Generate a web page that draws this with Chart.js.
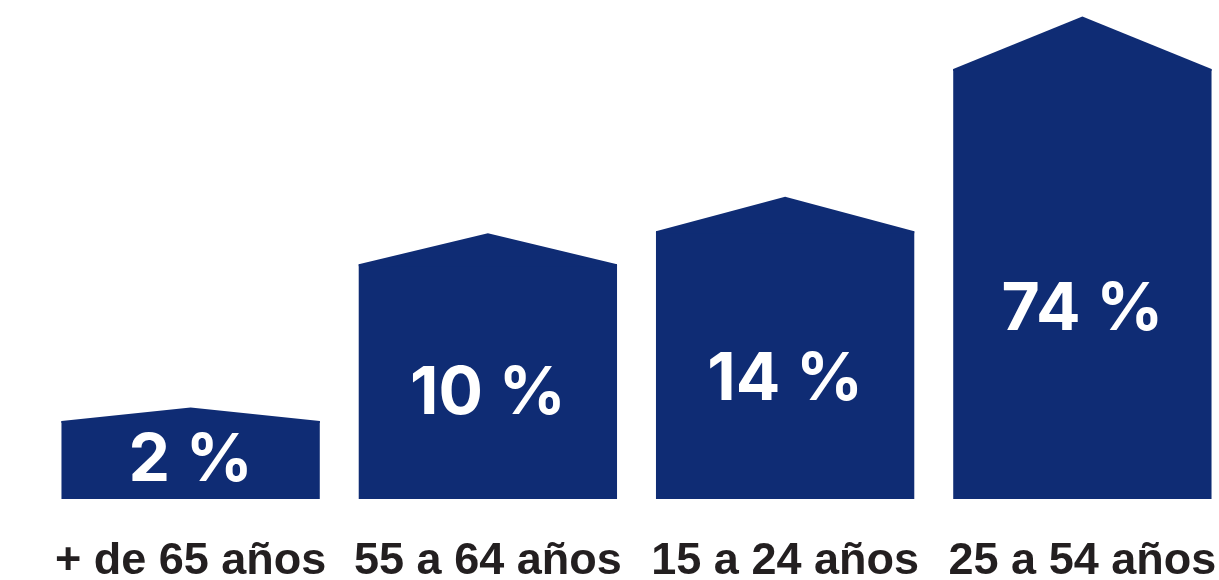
<!DOCTYPE html>
<html>
<head>
<meta charset="utf-8">
<script src="https://cdn.jsdelivr.net/npm/chart.js@4"></script>
<style>
html,body{margin:0;padding:0;background:#fff;overflow:hidden}
#wrap{width:1231px;height:580px;position:relative}
</style>
</head>
<body>
<div id="wrap"><canvas id="c"></canvas></div>
<script>
// grupos de edad y su participación (%)
const ageGroups = ['+ de 65 años', '55 a 64 años', '15 a 24 años', '25 a 54 años'];
const shares = [2, 10, 14, 74];

const NAVY = '#0f2c74';

// techo triangular + etiqueta blanca dentro de cada barra
const houseRoof = {
  id: 'houseRoof',
  afterDatasetsDraw(chart) {
    const ctx = chart.ctx;
    const meta = chart.getDatasetMeta(0);
    meta.data.forEach((bar, i) => {
      const half = bar.width / 2;
      const wall = bar.base - bar.y;
      const roof = wall * 0.11 + 5;
      ctx.save();
      ctx.fillStyle = NAVY;
      ctx.beginPath();
      ctx.moveTo(bar.x - half, bar.y + 2);
      ctx.lineTo(bar.x - half, bar.y);
      ctx.lineTo(bar.x, bar.y - roof);
      ctx.lineTo(bar.x + half, bar.y);
      ctx.lineTo(bar.x + half, bar.y + 2);
      ctx.closePath();
      ctx.fill();
      ctx.fillStyle = '#fff';
      ctx.font = 'bold 66px Inter, "Liberation Sans", Arial';
      ctx.textAlign = 'center';
      ctx.textBaseline = 'middle';
      ctx.fillText(shares[i] + ' %', bar.x, bar.base - wall * 0.43 - 4);
      ctx.restore();
    });
  }
};

new Chart(document.getElementById('c').getContext('2d'), {
  type: 'bar',
  data: {
    labels: ageGroups,
    datasets: [{
      data: shares,
      backgroundColor: NAVY,
      borderWidth: 0,
      categoryPercentage: 1,
      barPercentage: 0.869
    }]
  },
  options: {
    responsive: true,
    maintainAspectRatio: false,
    animation: false,
    layout: { autoPadding: false, padding: { left: 42, right: 0, top: 0, bottom: 0 } },
    plugins: { legend: { display: false }, tooltip: { enabled: false } },
    scales: {
      x: {
        grid: { display: false, drawTicks: false },
        border: { display: false },
        afterFit(scale) {
          scale.height = 81;
          scale.paddingLeft = 0;
          scale.paddingRight = 0;
        },
        ticks: {
          color: '#231f20',
          padding: 39,
          maxRotation: 0,
          autoSkip: false,
          font: { family: '"Liberation Sans", Arial, sans-serif', weight: 'bold', size: 45, lineHeight: 1.05 }
        }
      },
      y: {
        type: 'logarithmic',
        display: false,
        min: 0.9,
        max: 150
      }
    }
  },
  plugins: [houseRoof]
});
</script>
</body>
</html>
